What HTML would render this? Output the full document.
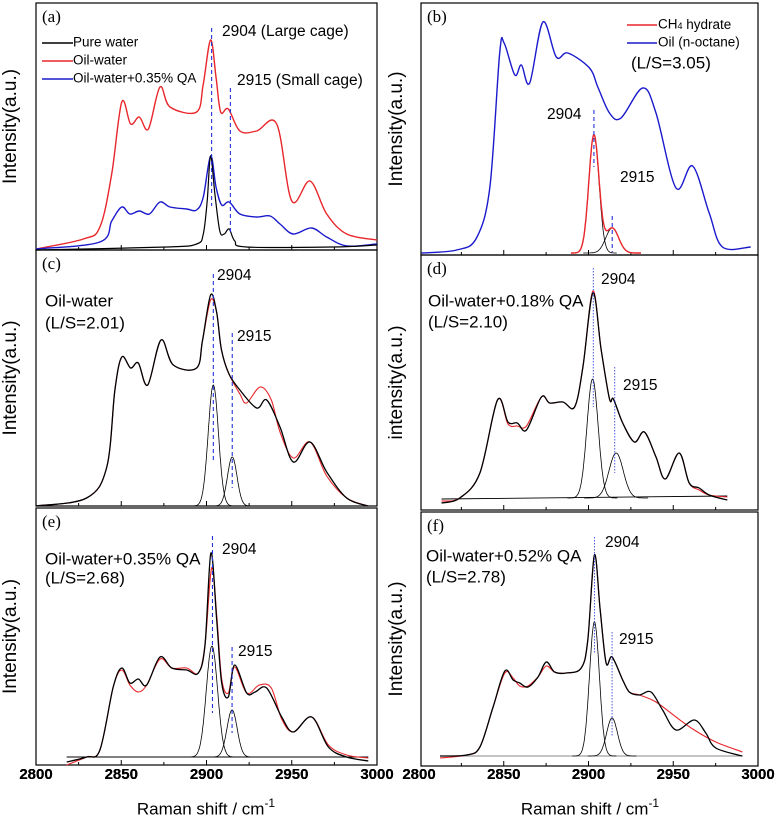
<!DOCTYPE html>
<html><head><meta charset="utf-8">
<style>
html,body{margin:0;padding:0;background:#fff;}
svg{display:block;font-family:"Liberation Sans",Arial,sans-serif;}
</style></head>
<body>
<svg id="fig" width="778" height="820" viewBox="0 0 778 820" xmlns="http://www.w3.org/2000/svg"></svg>
<script>
// ---------- tick labels ----------
const tickValues=[2800,2850,2900,2950,3000];
const minorTicks=[2825,2875,2925,2975];
// ---------- panel (a) ----------
const aRedX=[2800,2827.8,2837.5,2844.4,2850.3,2855.5,2860.6,2865.9,2872.7,2878.6,2894.2,2898.1,2902.4,2905.6,2908.3,2912.8,2919.6,2929.4,2941.2,2950,2960.7,2970.5,2982.2,3000];
const aRedY=[1,11,23,76,148,126,133,121,163,143,138,166,210,173,138,141,119,119,126,49,69,36,16,10];
const aBlueX=[2800,2837.5,2844.4,2850.3,2855,2860.6,2866.5,2872.7,2878.6,2888.4,2894.2,2898.1,2902.4,2905.6,2908.9,2913.3,2919.6,2929.4,2937.3,2943.1,2950.9,2961.6,2970.5,2982.2,3000];
const aBlueY=[1,8,29,43,36,39,36,48,43,41,40,53,94,63,45,48,36,33,34,26,16,22,13,4,6];
const aBlackX=[2800,2876.7,2894.2,2898.1,2900.4,2902.4,2904.9,2907.8,2910.4,2913.3,2916.6,2923.4,2974.3,3000];
const aBlackY=[0,3,6,16,49,94,56,19,16,21,9,3,3,5];
// ---------- panel (b) ----------
const bOilX=[2801.6,2822.2,2833.9,2841.8,2847.6,2850.2,2856.5,2860.4,2865.3,2873.1,2881,2887.8,2900.6,2905.5,2912.4,2919.2,2932,2939.8,2951.6,2961.4,2971.2,2979,2995.7];
const bOilY=[2,5,17,68,202,212,180,190,172,233,198,202,187,168,142,137,167,142,67,89,42,8,8];
const bPeakCenters=[2903.2,2914];
const bPeakHeights=[118,25];
const bPeakSigmas=[3.0,3.8];
// ---------- panel (c) ----------
const cBlackX=[2800,2829.7,2841.5,2846.3,2850.3,2855.5,2860,2865.5,2873.3,2880.5,2894.2,2897.7,2902.4,2905.9,2908.8,2913.2,2919.6,2929.4,2935.3,2943.1,2950.9,2960.7,2970.5,2982.2,2994.9];
const cBlackY=[0,8,39,116,149,138,143,121,166,141,138,166,211,194,156,132,116,98,106,79,44,64,34,8,0];
const cRedX=[2800,2829.7,2841.5,2846.3,2850.3,2855.5,2860,2865.5,2873.3,2880.5,2894.2,2897.7,2902.4,2905.9,2908.8,2913.2,2919.6,2923.5,2931.5,2938,2943.1,2950.9,2960.7,2970.5,2982.2,2994.9];
const cRedY=[0,8,39,116,149,138,143,121,166,141,138,166,206,194,156,132,112,103,119,106,74,48,64,30,8,0];
const cPeakCenters=[2904,2915.1];
const cPeakHeights=[121,49];
const cPeakSigmas=[3.0,2.8];
// ---------- panel (d) ----------
const dBlackX=[2813.3,2824.1,2835.9,2846.3,2852.5,2858,2863.4,2872.2,2877.1,2884.9,2891.8,2896.7,2902.6,2907.5,2912.4,2914.7,2920.2,2927.1,2933,2939.8,2945.3,2953.5,2959.4,2965.3,2971.2,2981.9];
const dBlackY=[7,12,37,110,88,87,80,113,107,108,103,143,217,160,111,111,87,68,78,53,31,57,27,22,15,10];
const dRedX=[2813.3,2824.1,2835.9,2846.3,2852.5,2858,2863.4,2872.2,2877.1,2884.9,2891.8,2896.7,2902.6,2907.5,2912.4,2914.7,2920.2,2927.1,2933,2939.8,2945.3,2953.5,2959.4,2965.3,2971.2,2981.9];
const dRedY=[9,12,37,110,86,84,84,113,107,108,103,143,219,160,111,111,87,68,78,53,31,57,27,20,15,13];
const dPeakCenters=[2902.4,2916.3];
const dPeakHeights=[119,45];
const dPeakSigmas=[3.3,4.2];
// ---------- panel (e) ----------
const eBlackX=[2818,2829.7,2837.5,2845.3,2850.3,2855.1,2860,2864.9,2872.7,2879.6,2888.4,2895.2,2899.1,2902.6,2906,2908.9,2912.8,2916.5,2923.6,2928.5,2935.3,2944.1,2950.9,2961.7,2971.5,2982.2,2994.9];
const eBlackY=[3,8,15,78,97,82,86,80,108,97,95,92,120,212,145,82,68,100,72,73,77,48,33,48,18,8,4];
const eRedX=[2818,2829.7,2837.5,2845.3,2850.3,2855.1,2860,2864.9,2872.7,2879.6,2888.4,2895.2,2899.1,2903,2906,2908.9,2912.8,2916.5,2923.6,2931,2938,2944.1,2950.9,2961.7,2971.5,2982.2,2994.9];
const eRedY=[0,8,15,78,95,80,73,80,106,97,97,92,120,197,150,86,72,98,72,80,77,46,33,48,20,10,7];
const ePeakCenters=[2903.2,2915];
const ePeakHeights=[111,47];
const ePeakSigmas=[3.3,3.0];
// ---------- panel (f) ----------
const fBlackX=[2812.4,2828.1,2835.9,2843.7,2850.6,2855.5,2859.4,2864.3,2870.2,2875.1,2880,2886.9,2895.7,2899.6,2903.5,2906.9,2910.4,2913.9,2920.2,2924.1,2930,2936.9,2943.7,2951.6,2962.4,2969.2,2975.1,2990.8];
const fBlackY=[10,11,19,59,95,86,83,79,89,104,94,93,98,126,211,156,103,109,86,74,71,74,56,36,46,33,18,10];
const fRedX=[2812.4,2828.1,2835.9,2843.7,2850.6,2855.5,2859.4,2864.3,2870.2,2875.1,2880,2886.9,2895.7,2899.6,2903.5,2906.9,2910.4,2913.9,2920.2,2924.1,2930,2939.8,2951.6,2962.4,2975.1,2990.8];
const fRedY=[8,11,19,59,93,88,80,80,89,100,94,93,98,126,211,156,103,109,86,74,71,64,49,36,24,14];
const fPeakCenters=[2903.5,2913.9];
const fPeakHeights=[134,38];
const fPeakSigmas=[2.9,3.2];

const NS="http://www.w3.org/2000/svg";
const svg=document.getElementById('fig');
function mk(tag,attrs,parent){const e=document.createElementNS(NS,tag);for(const k in attrs)e.setAttribute(k,attrs[k]);(parent||svg).appendChild(e);return e;}

const layout={
 a:{x0:36,k:1.705,top:3,bottom:250,left:36,right:377},
 b:{x0:419,k:1.695,top:3,bottom:255,left:421,right:758},
 c:{x0:36,k:1.705,top:250,bottom:506,left:36,right:377},
 d:{x0:419,k:1.695,top:255,bottom:510,left:421,right:758},
 e:{x0:36,k:1.705,top:508,bottom:765,left:36,right:377},
 f:{x0:419,k:1.695,top:512,bottom:766,left:421,right:758}
};
function sx(p,s){return p.x0+(s-2800)*p.k;}
function sy(p,v){return p.bottom-v;}

function smoothPath(pts){
 let d='M'+pts[0][0].toFixed(1)+','+pts[0][1].toFixed(1);
 for(let i=0;i<pts.length-1;i++){
  const p0=pts[Math.max(0,i-1)],p1=pts[i],p2=pts[i+1],p3=pts[Math.min(pts.length-1,i+2)];
  const c1=[p1[0]+(p2[0]-p0[0])/6,p1[1]+(p2[1]-p0[1])/6];
  const c2=[p2[0]-(p3[0]-p1[0])/6,p2[1]-(p3[1]-p1[1])/6];
  d+=' C'+c1[0].toFixed(1)+','+c1[1].toFixed(1)+' '+c2[0].toFixed(1)+','+c2[1].toFixed(1)+' '+p2[0].toFixed(1)+','+p2[1].toFixed(1);
 }
 return d;
}
function series(p,xs,ys,color,w,name,g){
 const pts=xs.map((s,i)=>[sx(p,s),sy(p,ys[i])]);
 const el=mk('path',{d:smoothPath(pts),fill:'none',stroke:color,'stroke-width':w,'stroke-linejoin':'round'},g);
 
 
 return el;
}
function gaussPts(p,c,h,sg,base){
 const pts=[];
 for(let s=c-4.5*sg;s<=c+4.5*sg;s+=0.25){pts.push([sx(p,s),sy(p,base+h*Math.exp(-0.5*((s-c)/sg)**2))]);}
 return pts;
}
function comps(p,cs,hs,ss,base,g,name){
 cs.forEach((c,i)=>{
  const pts=gaussPts(p,c,hs[i],ss[i],base);
  const el=mk('polyline',{points:pts.map(q=>q[0].toFixed(1)+','+q[1].toFixed(1)).join(' '),fill:'none',stroke:'#000','stroke-width':0.8},g);
  
  
 });
}
function sumPeaks(p,cs,hs,ss,base,g,color,name){
 const lo=cs[0]-4.5*ss[0],hi=cs[cs.length-1]+4.5*ss[ss.length-1];const pts=[];
 for(let s=lo;s<=hi;s+=0.25){let v=base;cs.forEach((c,i)=>{v+=hs[i]*Math.exp(-0.5*((s-c)/ss[i])**2);});pts.push([sx(p,s),sy(p,v)]);}
 const el=mk('polyline',{points:pts.map(q=>q[0].toFixed(1)+','+q[1].toFixed(1)).join(' '),fill:'none',stroke:color,'stroke-width':1.4},g);
 
 
}
function baseLine(p,s1,s2,v1,v2,g,color){
 const el=mk('line',{x1:sx(p,s1),y1:sy(p,v1),x2:sx(p,s2),y2:sy(p,v2),stroke:color,'stroke-width':0.9},g);
 
 
}
function vdash(p,s,y1,y2,g,dash){
 const el=mk('line',{x1:sx(p,s),y1:y1,x2:sx(p,s),y2:y2,stroke:'#2233dd','stroke-width':dash?1.1:0.8,'stroke-dasharray':dash?'4,3':'1.5,1.5'},g);
 
 
}
function txt(x,y,s,size,g,name,extra){
 const el=mk('text',Object.assign({x:x,y:y,'font-size':size,'dominant-baseline':'middle'},extra||{}),g);
 el.textContent=s;
 
 
 return el;
}
function frame(id,p,ytitle,tcx,showLabels){
 const g=mk('g',{});
 
 
 const r=mk('rect',{x:p.left,y:p.top,width:p.right-p.left,height:p.bottom-p.top,fill:'none',stroke:'#000','stroke-width':1.2},g);
 
 
 tickValues.forEach(t=>{const x=sx(p,t);if(x>p.left+1&&x<p.right-1){const l=mk('line',{x1:x,y1:p.bottom,x2:x,y2:p.bottom-5,stroke:'#000','stroke-width':1},g);
  
  }
  if(showLabels){txt(x,775,String(t),15,g,'x-tick-label',{'text-anchor':'middle','font-weight':'bold'});}
 });
 minorTicks.forEach(t=>{const x=sx(p,t);const l=mk('line',{x1:x,y1:p.bottom,x2:x,y2:p.bottom-3,stroke:'#000','stroke-width':1},g);
  
  });
 const cy=(p.top+p.bottom)/2;
 txt(tcx,cy,ytitle,19,g,'y-axis-title',{'text-anchor':'middle',transform:'rotate(-90 '+tcx+' '+cy+')'});
 txt(p.left+6,p.top+15,'('+id+')',17,g,'panel-label',{'font-family':'Liberation Serif, serif'});
 return g;
}

// panel a
let p=layout.a,g=frame('a',p,'Intensity(a.u.)',11,true);
series(p,aRedX,aRedY,'#e8262b',1.4,'oil-water-curve',g);
series(p,aBlueX,aBlueY,'#1a1acc',1.4,'oil-water-qa-curve',g);
series(p,aBlackX,aBlackY,'#000',1.2,'pure-water-curve',g);
vdash(p,2903,28,206,g,true);vdash(p,2914,88,235,g,true);
[['#000','Pure water',43],['#e8262b','Oil-water',61],['#1a1acc','Oil-water+0.35% QA',79]].forEach(e=>{
 const l=mk('line',{x1:42,y1:e[2],x2:73,y2:e[2],stroke:e[0],'stroke-width':1.4},g);
 
 
 txt(73,e[2],e[1],13.5,g,'legend-entry');
});
txt(222,32,'2904 (Large cage)',15.5,g,'annotation-2904');
txt(237,81,'2915 (Small cage)',15.5,g,'annotation-2915');

// panel b
p=layout.b;g=frame('b',p,'Intensity(a.u.)',397,true);
series(p,bOilX,bOilY,'#1a1acc',1.4,'oil-n-octane-curve',g);
comps(p,bPeakCenters,bPeakHeights,bPeakSigmas,2,g,'fit-component');
sumPeaks(p,bPeakCenters,bPeakHeights,bPeakSigmas,2,g,'#e8262b','ch4-hydrate-curve');
vdash(p,2903.2,110,167,g,true);vdash(p,2914,216,252,g,true);
[['#e8262b','CH',25],['#1a1acc','Oil (n-octane)',43]].forEach(e=>{
 const l=mk('line',{x1:627,y1:e[2],x2:657,y2:e[2],stroke:e[0],'stroke-width':1.4},g);
 
 
});
const ch=txt(658,25,'CH',13.5,g,'legend-entry');
const sub=mk('tspan',{'font-size':9,dy:2},ch);sub.textContent='4';
const rest=mk('tspan',{dy:-2},ch);rest.textContent=' hydrate';
txt(658,43,'Oil (n-octane)',13.5,g,'legend-entry');
txt(631,64,'(L/S=3.05)',17,g,'ls-ratio');
txt(547,115,'2904',15.5,g,'annotation-2904');
txt(620,178,'2915',15.5,g,'annotation-2915');

// panel c
p=layout.c;g=frame('c',p,'Intensity(a.u.)',11,true);
comps(p,cPeakCenters,cPeakHeights,cPeakSigmas,0,g,'fit-component');
series(p,cRedX,cRedY,'#e8262b',1.1,'fit-curve',g);
series(p,cBlackX,cBlackY,'#000',1.3,'measured-curve',g);
vdash(p,2904,274,462,g,true);vdash(p,2915.1,333,488,g,true);
txt(45,302,'Oil-water',17,g,'sample-label');
txt(45,324,'(L/S=2.01)',17,g,'ls-ratio');
txt(217,276,'2904',15.5,g,'annotation-2904');
txt(237,337,'2915',15.5,g,'annotation-2915');

// panel d
p=layout.d;g=frame('d',p,'intensity(a.u.)',397,true);
baseLine(p,2813.3,2981.9,11,14,g,'#000');
comps(p,dPeakCenters,dPeakHeights,dPeakSigmas,12,g,'fit-component');
series(p,dRedX,dRedY,'#e8262b',1.1,'fit-curve',g);
series(p,dBlackX,dBlackY,'#000',1.3,'measured-curve',g);
vdash(p,2902.8,268,407,g,false);vdash(p,2915.5,367,473,g,false);
txt(428,302,'Oil-water+0.18% QA',17,g,'sample-label');
txt(428,323,'(L/S=2.10)',17,g,'ls-ratio');
txt(601,280,'2904',15.5,g,'annotation-2904');
txt(623,386,'2915',15.5,g,'annotation-2915');

// panel e
p=layout.e;g=frame('e',p,'Intensity(a.u.)',11,true);
baseLine(p,2818,2994.9,8,8,g,'#000');
comps(p,ePeakCenters,ePeakHeights,ePeakSigmas,8,g,'fit-component');
series(p,eRedX,eRedY,'#e8262b',1.1,'fit-curve',g);
series(p,eBlackX,eBlackY,'#000',1.3,'measured-curve',g);
vdash(p,2903.5,536,713,g,true);vdash(p,2915,647,733,g,true);
txt(45,560,'Oil-water+0.35% QA',17,g,'sample-label');
txt(45,579,'(L/S=2.68)',17,g,'ls-ratio');
txt(222,550,'2904',15.5,g,'annotation-2904');
txt(238,652,'2915',15.5,g,'annotation-2915');

// panel f
p=layout.f;g=frame('f',p,'Intensity(a.u.)',397,true);
baseLine(p,2812.4,2990.8,10,10,g,'#888');
comps(p,fPeakCenters,fPeakHeights,fPeakSigmas,10,g,'fit-component');
series(p,fRedX,fRedY,'#e8262b',1.1,'fit-curve',g);
series(p,fBlackX,fBlackY,'#000',1.3,'measured-curve',g);
vdash(p,2903.5,537,653,g,false);vdash(p,2913.9,632,737,g,false);
txt(426,557,'Oil-water+0.52% QA',17,g,'sample-label');
txt(426,578,'(L/S=2.78)',17,g,'ls-ratio');
txt(605,543,'2904',15.5,g,'annotation-2904');
txt(619,640,'2915',15.5,g,'annotation-2915');

// x axis titles
[[206,'left'],[590,'right']].forEach(a=>{
 const t=mk('text',{x:a[0],y:810,'font-size':17,'text-anchor':'middle','dominant-baseline':'middle'});
 
 
 t.appendChild(document.createTextNode('Raman shift / cm'));
 const sp=mk('tspan',{'font-size':12,dy:-6},t);sp.textContent='-1';
});
</script>
</body></html>
